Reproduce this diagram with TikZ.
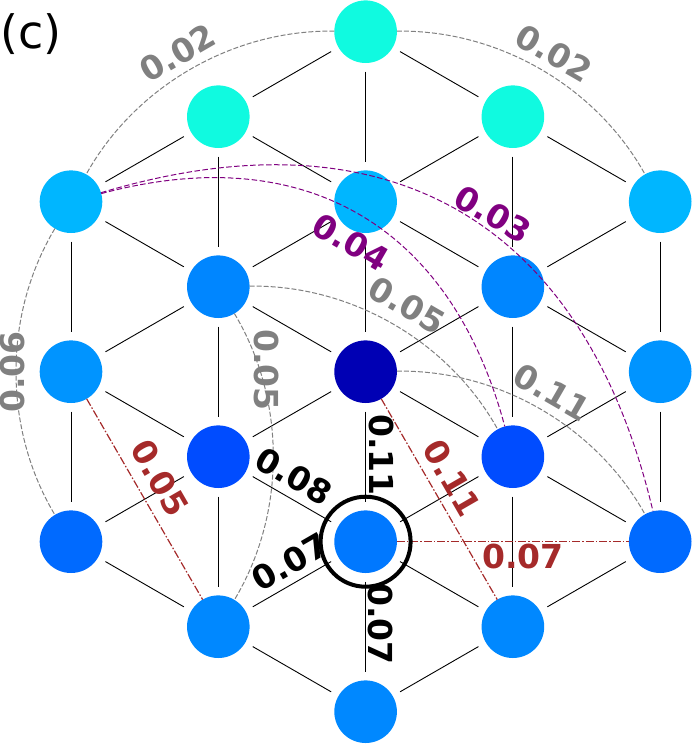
\documentclass[tikz,border=0pt]{standalone}
\usepackage{fontspec}
\setmainfont{DejaVu Sans}
\usetikzlibrary{calc}
\definecolor{cCyan}{HTML}{10FAE0}
\definecolor{cSky}{HTML}{00B6FF}
\definecolor{cBlA}{HTML}{0086FF}
\definecolor{cBlB}{HTML}{0094FF}
\definecolor{cBlC}{HTML}{004CFF}
\definecolor{cBlD}{HTML}{006AFF}
\definecolor{cBlE}{HTML}{0078FF}
\definecolor{cBlF}{HTML}{0088FF}
\definecolor{cDark}{HTML}{0000B4}
\definecolor{cPurple}{HTML}{800080}
\definecolor{cBrown}{HTML}{A52A2A}
\definecolor{cGray}{HTML}{808080}
\newcommand{\qarc}[5]{% style, from, to, fraction, angle
  \coordinate (qc) at ($(#2)!0.5!(#3)!#4!#5:(#3)$);
  \draw[#1] (#2) .. controls ($(#2)!0.6667!(qc)$) and ($(#3)!0.6667!(qc)$) .. (#3);}
\begin{document}
\begin{tikzpicture}[x=1pt,y=-1pt,
  vtx/.style={circle,inner sep=0pt,outer sep=0pt,minimum size=62.6pt},
  latt/.style={black,line width=0.9pt,shorten <=8.5pt,shorten >=8.5pt},
  grayarc/.style={cGray,line width=1pt,dash pattern=on 5pt off 2pt},
  purparc/.style={cPurple,line width=1pt,dash pattern=on 5.5pt off 2.5pt},
  redline/.style={cBrown,line width=1.2pt,dash pattern=on 8pt off 2pt on 1.5pt off 2pt},
  lbl/.style={font=\bfseries\fontsize{33}{33}\selectfont,inner sep=0pt},
]
\useasboundingbox (0,0) rectangle (692,744);
% nodes
\foreach \c/\r/\col in {0/2/cSky,0/4/cBlB,0/6/cBlD,
                        1/1/cCyan,1/3/cBlA,1/5/cBlC,1/7/cBlF,
                        2/0/cCyan,2/2/cSky,2/4/cDark,2/6/cBlE,2/8/cBlF,
                        3/1/cCyan,3/3/cBlA,3/5/cBlC,3/7/cBlF,
                        4/2/cSky,4/4/cBlB,4/6/cBlD}
  \node[vtx,fill=\col] (n\c\r) at ({71+147.3*\c},{31.7+85*\r}) {};
% lattice edges
\foreach \a/\b in {02/04,04/06,11/13,13/15,15/17,20/22,22/24,24/26,26/28,
                   31/33,33/35,35/37,42/44,44/46,
                   02/11,02/13,04/13,04/15,06/15,06/17,
                   11/20,11/22,13/22,13/24,15/24,15/26,17/26,17/28,
                   20/31,22/31,22/33,24/33,24/35,26/35,26/37,28/37,
                   31/42,33/42,33/44,35/44,35/46,37/46}
  \draw[latt] (n\a) -- (n\b);
% gray arcs
\qarc{grayarc}{n20}{n02}{0.6}{-90}
\qarc{grayarc}{n20}{n42}{0.6}{90}
\qarc{grayarc}{n02}{n06}{0.6}{-90}
\qarc{grayarc}{n13}{n17}{0.6}{90}
\qarc{grayarc}{n13}{n35}{0.6}{90}
\qarc{grayarc}{n24}{n46}{0.6}{90}
% purple arcs
\qarc{purparc}{n02}{n35}{1.0}{90}
\qarc{purparc}{n02}{n46}{1.06}{90}
% red lines
\draw[redline] (n04) -- (n17);
\draw[redline] (n24) -- (n37);
\draw[redline] (n26) -- (n46);
% ring
\draw[line width=4pt] (n26) circle[radius=45pt];
% labels
\node[lbl,cGray,rotate=30] (l1) at (177.5,53) {0.02};
\node[lbl,cGray,rotate=-30] (l2) at (554,53) {0.02};
\node[lbl,cGray,rotate=90] (l3) at (12.5,372) {0.06};
\node[lbl,cGray,rotate=-90] (l4) at (266.5,370) {0.05};
\node[lbl,cGray,rotate=-30] (l5) at (407,305) {0.05};
\node[lbl,cGray,rotate=-30] (l6) at (552,392) {0.11};
\node[lbl,cPurple,rotate=-30] (l7) at (351,242) {0.04};
\node[lbl,cPurple,rotate=-30] (l8) at (493,214) {0.03};
\node[lbl,cBrown,rotate=-60] (l9) at (160,478) {0.05};
\node[lbl,cBrown,rotate=-60] (l10) at (452,478) {0.11};
\node[lbl,cBrown] (l11) at (523,556) {0.07};
\node[lbl,black,rotate=-30] (l12) at (294,476) {0.08};
\node[lbl,black,rotate=30] (l13) at (290,562) {0.07};
\node[lbl,black,rotate=-90] (l14) at (382,455) {0.11};
\node[lbl,black,rotate=-90] (l15) at (381,624) {0.07};
\node[anchor=base west,inner sep=0pt,font=\fontsize{46}{46}\selectfont] (title) at (0,48) {(c)};
\end{tikzpicture}
\end{document}
